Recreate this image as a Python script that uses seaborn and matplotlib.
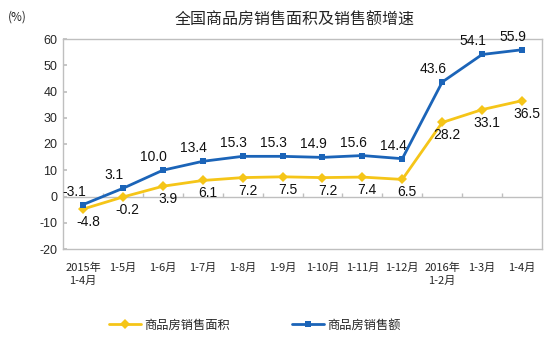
import matplotlib
matplotlib.use("Agg")
import matplotlib.pyplot as plt
import seaborn as sns
import pandas as pd

categories = ["2015年\n1-4月", "1-5月", "1-6月", "1-7月", "1-8月", "1-9月", "1-10月",
              "1-11月", "1-12月", "2016年\n1-2月", "1-3月", "1-4月"]
area = [-4.8, -0.2, 3.9, 6.1, 7.2, 7.5, 7.2, 7.4, 6.5, 28.2, 33.1, 36.5]
amount = [-3.1, 3.1, 10.0, 13.4, 15.3, 15.3, 14.9, 15.6, 14.4, 43.6, 54.1, 55.9]
series_names = ["商品房销售面积", "商品房销售额"]
yticks = [-20, -10, 0, 10, 20, 30, 40, 50, 60]

sns.set_theme(style="white")
plt.rcParams['font.family'] = ['Liberation Sans', 'Noto Sans CJK SC', 'DejaVu Sans']

yellow = "#F5C518"
blue = "#1B64B8"

df = pd.DataFrame({
    "x": list(range(len(categories))) * 2,
    "value": area + amount,
    "series": [series_names[0]] * len(area) + [series_names[1]] * len(amount),
})

fig = plt.figure(figsize=(5.56, 3.41), dpi=100)
ax = fig.add_axes([63/556, 1-249/341, (542-63)/556, (249-39)/341])

sns.lineplot(data=df, x="x", y="value", hue="series", style="series",
             palette={series_names[0]: yellow, series_names[1]: blue},
             markers={series_names[0]: "D", series_names[1]: "s"},
             dashes=False, markersize=5, linewidth=2, markeredgewidth=0,
             ax=ax, legend=True)

ax.set_xlim(-0.5, len(categories) - 0.5)
ax.set_ylim(-20, 60)
ax.set_yticks(yticks)
ax.set_yticklabels([str(v) for v in yticks], fontsize=9)
ax.set_xticks(range(len(categories)))
ax.set_xticklabels(categories, fontsize=8, family=['Noto Sans CJK SC', 'DejaVu Sans'],
                   linespacing=1.3)
ax.set_xlabel("")
ax.set_ylabel("")
ax.tick_params(axis='x', length=0, pad=10)
ax.tick_params(axis='y', direction='in', length=3, color="#BFBFBF", pad=4, left=True)

for s in ax.spines.values():
    s.set_color("#BFBFBF")
    s.set_linewidth(1)

ax.axhline(0, color="#BFBFBF", linewidth=1, zorder=1)
ax.vlines([i + 0.5 for i in range(len(categories) - 1)], 0, 1.2,
          color="#BFBFBF", linewidth=1, zorder=1)

for i, v in enumerate(amount):
    ax.annotate(f"{v:.1f}", (i, v), xytext=(-9, 6), textcoords="offset pixels",
                ha="center", va="bottom", fontsize=10, color="#111111")
for i, v in enumerate(area):
    ax.annotate(f"{v:.1f}", (i, v), xytext=(5, -6), textcoords="offset pixels",
                ha="center", va="top", fontsize=10, color="#111111")

handles, labels = ax.get_legend_handles_labels()
ax.legend_.remove()
fig.legend(handles, labels, loc="center", bbox_to_anchor=(255/556, 1-325/341),
           ncol=2, frameon=False, columnspacing=5.1, handlelength=2.6,
           handletextpad=0.3, prop={'family': ['Noto Sans CJK SC'], 'size': 8.8})

fig.text(0.53, 1-20/341, "全国商品房销售面积及销售额增速", ha="center", va="center",
         fontsize=11.5, family=['Noto Sans CJK SC'])
fig.text(8/556, 1-17/341, "(%)", ha="left", va="center", fontsize=8.5,
         family=['Noto Sans CJK SC'])

fig.savefig("out.png", dpi=100)
